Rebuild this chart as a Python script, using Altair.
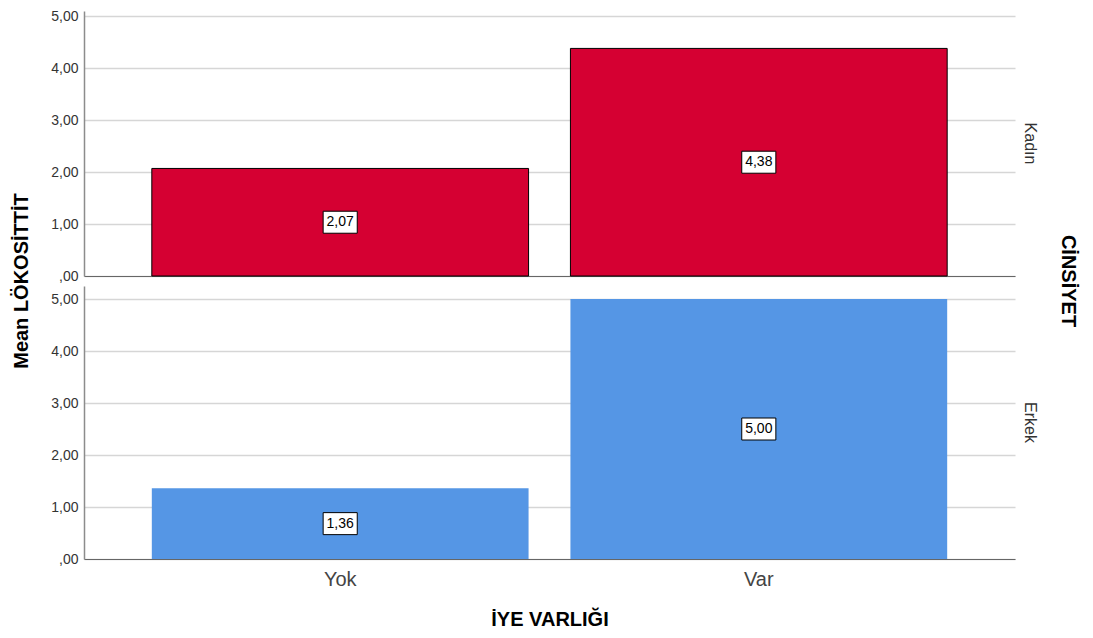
import altair as alt
import pandas as pd

categories = ["Yok", "Var"]
genders = ["Kadın", "Erkek"]
kadin_means = [2.07, 4.38]
erkek_means = [1.36, 5.00]
y_ticks = [0, 1, 2, 3, 4, 5]

colors = {"Kadın": "#d50032", "Erkek": "#5596e5"}
FONT = "Liberation Sans"
W = 931

rows = []
for g, vals in zip(genders, [kadin_means, erkek_means]):
    for c, v in zip(categories, vals):
        rows.append({"gender": g, "iye": c, "mean": v})
df = pd.DataFrame(rows)


def panel(g, h, ymax, bottom):
    base = alt.Chart(df).transform_filter(alt.datum.gender == g).transform_calculate(
        half="datum.mean / 2",
        lab="replace(format(datum.mean, '.2f'), '.', ',')",
    )
    if bottom:
        xaxis = alt.Axis(title="İYE VARLIĞI", labelAngle=0, ticks=False, domain=True,
                         domainColor="#666666", domainWidth=1.2,
                         labelFont=FONT, labelFontSize=20, labelColor="#444444", labelPadding=10,
                         titleFont=FONT, titleFontSize=20, titleFontWeight="bold",
                         titleColor="#000000", titlePadding=20)
    else:
        xaxis = alt.Axis(title=None, labels=False, ticks=False, domain=True,
                         domainColor="#666666", domainWidth=1.2)
    x = alt.X("iye:N", sort=categories,
              scale=alt.Scale(paddingInner=0.1, paddingOuter=0.162), axis=xaxis)
    yaxis = alt.Axis(values=y_ticks, title=None,
                     labelExpr="datum.value == 0 ? ',00' : replace(format(datum.value, '.2f'), '.', ',')",
                     grid=True, gridColor="#d6d6d6", gridWidth=1.5,
                     domainColor="#8c8c8c", domainWidth=1.5, ticks=False,
                     labelPadding=6, labelFont=FONT, labelFontSize=14, labelColor="#333333")
    yscale = alt.Scale(domain=[0, ymax], nice=False, zero=True)

    bar_kw = dict(color=colors[g], opacity=1)
    if g == "Kadın":
        bar_kw.update(stroke="black", strokeWidth=1)
    bars = base.mark_bar(**bar_kw).encode(
        x=x, y=alt.Y("mean:Q", scale=yscale, axis=yaxis))
    boxes = base.mark_point(shape="M-1.55,-1L1.55,-1L1.55,1L-1.55,1Z", size=484, filled=True,
                            fill="white", stroke="black", strokeWidth=1, opacity=1).encode(
        x=alt.X("iye:N", sort=categories), y=alt.Y("half:Q", scale=yscale))
    texts = base.mark_text(font=FONT, fontSize=14, color="#000000").encode(
        x=alt.X("iye:N", sort=categories), y=alt.Y("half:Q", scale=yscale), text="lab:N")
    rowlab = alt.Chart(pd.DataFrame({"g": [g]})).mark_text(
        angle=90, font=FONT, fontSize=16, color="#333333").encode(
        x=alt.value(W + 15), y=alt.value(h / 2), text="g:N")
    layers = [bars, boxes, texts, rowlab]
    if not bottom:
        ttl = alt.Chart(pd.DataFrame({"t": ["CİNSİYET"]})).mark_text(
            angle=90, font=FONT, fontSize=20, fontWeight="bold", color="#000000").encode(
            x=alt.value(W + 53), y=alt.value(270), text="t:N")
        ytl = alt.Chart(pd.DataFrame({"t": ["Mean LÖKOSİTTİT"]})).mark_text(
            angle=270, font=FONT, fontSize=20, fontWeight="bold", color="#000000").encode(
            x=alt.value(-62), y=alt.value(270), text="t:N")
        layers += [ttl, ytl]
    return alt.layer(*layers).properties(width=W, height=h)


top = panel("Kadın", 265, 5.1, False)
bot = panel("Erkek", 273, 5.25, True)

chart = alt.vconcat(top, bot, spacing=10, bounds="flush").properties(
    padding={"left": 4, "top": 1, "right": 6, "bottom": 0}
).configure(background="white").configure_view(stroke=None)

chart.save("out.html", embed_options={"renderer": "svg", "actions": False})
